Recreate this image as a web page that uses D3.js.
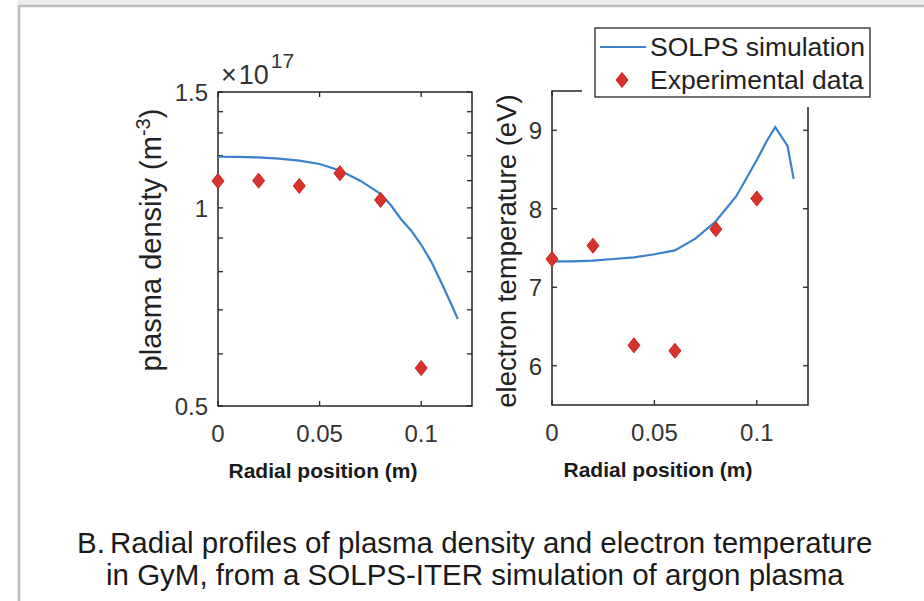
<html>
<head>
<script src="https://d3js.org/d3.v7.min.js"></script>
<style>
  body { margin: 0; background: white; }
  text { font-family: "Liberation Sans", Arial, sans-serif; }
  .tick-label { font-size: 24px; fill: #333; }
  .axis-title { font-size: 26px; fill: #222; }
  .x-title { font-size: 21px; font-weight: bold; fill: #1a1a1a; }
</style>
</head>
<body>
<svg id="fig" width="924" height="601"></svg>
<script>
// density panel (log axis)
const simX = [0, 0.01, 0.02, 0.03, 0.04, 0.05, 0.06, 0.07, 0.08, 0.085, 0.09, 0.095, 0.1, 0.105, 0.11, 0.115, 0.118];
const simDensity = [1.196, 1.195, 1.193, 1.188, 1.18, 1.166, 1.14, 1.1, 1.05, 1.01, 0.962, 0.924, 0.879, 0.828, 0.769, 0.712, 0.678];
// temperature panel
const simTX = [0, 0.01, 0.02, 0.03, 0.04, 0.05, 0.06, 0.07, 0.08, 0.09, 0.1, 0.105, 0.109, 0.115, 0.118];
const simTemp = [7.33, 7.33, 7.34, 7.36, 7.38, 7.42, 7.47, 7.62, 7.84, 8.16, 8.62, 8.87, 9.04, 8.8, 8.38];

const expX = [0, 0.02, 0.04, 0.06, 0.08, 0.1];
const expDensity = [1.099, 1.10, 1.08, 1.129, 1.028, 0.571];
const expTemp = [7.36, 7.53, 6.26, 6.19, 7.74, 8.13];

const xTicks = [0, 0.05, 0.1];
const densityTicks = [0.5, 1, 1.5];
const densityMinor = [0.5, 0.6, 0.7, 0.8, 0.9, 1, 1.1, 1.2, 1.3, 1.4, 1.5];
const tempTicks = [6, 7, 8, 9];

const blue = "#3a80cc";
const red = "#d8322c";

const svg = d3.select("#fig");

// outer frame of the figure
svg.append("rect").attr("x", 18).attr("y", 0).attr("width", 906).attr("height", 5).attr("fill", "#eeeeee");
svg.append("path").attr("d", "M19,601 L19,6 L924,6").attr("fill", "none")
  .attr("stroke", "#bdbdbd").attr("stroke-width", 2.5);

function panel(opt) {
  const x = d3.scaleLinear().domain([0, 0.125]).range([opt.left, opt.right]);
  const y = opt.y;
  const g = svg.append("g");
  const [y0, y1] = y.range();
  const tl = 5;

  // ticks on all four sides, pointing inward
  opt.ticks.forEach(v => {
    g.append("line").attr("x1", opt.left).attr("x2", opt.left + tl).attr("y1", y(v)).attr("y2", y(v));
    g.append("line").attr("x1", opt.right).attr("x2", opt.right - tl).attr("y1", y(v)).attr("y2", y(v));
  });
  xTicks.forEach(v => {
    g.append("line").attr("x1", x(v)).attr("x2", x(v)).attr("y1", y0).attr("y2", y0 - tl);
    g.append("line").attr("x1", x(v)).attr("x2", x(v)).attr("y1", y1).attr("y2", y1 + tl);
  });
  g.selectAll("line").attr("stroke", "#262626").attr("stroke-width", 1.3);

  g.append("rect").attr("x", opt.left).attr("y", y1)
    .attr("width", opt.right - opt.left).attr("height", y0 - y1)
    .attr("fill", "none").attr("stroke", "#262626").attr("stroke-width", 1.5);

  g.selectAll("text.xt").data(xTicks).join("text")
    .attr("class", "tick-label").attr("x", d => x(d)).attr("y", y0 + 36)
    .attr("text-anchor", "middle").text(d => d);
  g.selectAll("text.yt").data(opt.labels).join("text")
    .attr("class", "tick-label").attr("x", opt.left - 10).attr("y", d => y(d) + 9)
    .attr("text-anchor", "end").text(d => d);

  g.append("text").attr("class", "x-title")
    .attr("x", (opt.left + opt.right) / 2 - 22).attr("y", y0 + 72)
    .attr("text-anchor", "middle").text("Radial position (m)");

  const line = d3.line().x(d => x(d[0])).y(d => y(d[1]));
  g.append("path").datum(d3.zip(opt.lineX, opt.lineY))
    .attr("d", line).attr("fill", "none").attr("stroke", blue).attr("stroke-width", 2.2);

  const diamond = "M0,-7.5 L6,0 L0,7.5 L-6,0 Z";
  g.selectAll("path.pt").data(d3.zip(expX, opt.exp)).join("path")
    .attr("transform", d => `translate(${x(d[0])},${y(d[1])})`)
    .attr("d", diamond).attr("fill", red).attr("stroke", "#c42520").attr("stroke-width", 1);
  return g;
}

const yDen = d3.scaleLog().domain([0.5, 1.5]).range([406, 92]);
const left = panel({left: 218, right: 472, y: yDen, ticks: densityMinor, labels: densityTicks,
  lineX: simX, lineY: simDensity, exp: expDensity});

const yTemp = d3.scaleLinear().domain([5.5, 9.5]).range([405, 91]);
const right = panel({left: 552, right: 808, y: yTemp, ticks: tempTicks, labels: tempTicks,
  lineX: simTX, lineY: simTemp, exp: expTemp});

// exponent label
const ex = svg.append("text").attr("class", "tick-label").attr("x", 221).attr("y", 84).style("font-size", "27px");
ex.append("tspan").text("\u00d7");
ex.append("tspan").attr("dx", 2).text("10");
ex.append("tspan").attr("dy", -16).attr("dx", 2).style("font-size", "21px").text("17");

// y axis titles
const yl = svg.append("text").attr("class", "axis-title").style("font-size", "29px")
  .attr("transform", "translate(161,240) rotate(-90)").attr("text-anchor", "middle");
yl.append("tspan").text("plasma density (m");
yl.append("tspan").attr("dy", -11).style("font-size", "20px").text("-3");
yl.append("tspan").attr("dy", 11).text(")");

svg.append("text").attr("class", "axis-title").style("font-size", "27.5px")
  .attr("transform", "translate(516,251) rotate(-90)").attr("text-anchor", "middle")
  .text("electron temperature (eV)");

// legend
svg.append("rect").attr("x", 582).attr("y", 20).attr("width", 292).attr("height", 87).attr("fill", "white");
svg.append("rect").attr("x", 595).attr("y", 28).attr("width", 275).attr("height", 69)
  .attr("fill", "white").attr("stroke", "#262626").attr("stroke-width", 1.3);
svg.append("line").attr("x1", 600).attr("x2", 646).attr("y1", 47).attr("y2", 47)
  .attr("stroke", blue).attr("stroke-width", 2.2);
svg.append("path").attr("transform", "translate(622,80)").attr("d", "M0,-7.5 L6,0 L0,7.5 L-6,0 Z")
  .attr("fill", red).attr("stroke", "#c42520");
svg.append("text").attr("class", "axis-title").style("font-size", "26.5px").attr("x", 650).attr("y", 56).text("SOLPS simulation");
svg.append("text").attr("class", "axis-title").style("font-size", "26.5px").attr("x", 650).attr("y", 89).text("Experimental data");

// caption
const cap = svg.append("g").style("font-size", "29.5px").attr("fill", "#1a1a1a");
cap.append("text").attr("x", 77).attr("y", 553).text("B.");
cap.append("text").attr("x", 110).attr("y", 553).text("Radial profiles of plasma density and electron temperature");
cap.append("text").attr("x", 106).attr("y", 585).text("in GyM, from a SOLPS-ITER simulation of argon plasma");
</script>
</body>
</html>
